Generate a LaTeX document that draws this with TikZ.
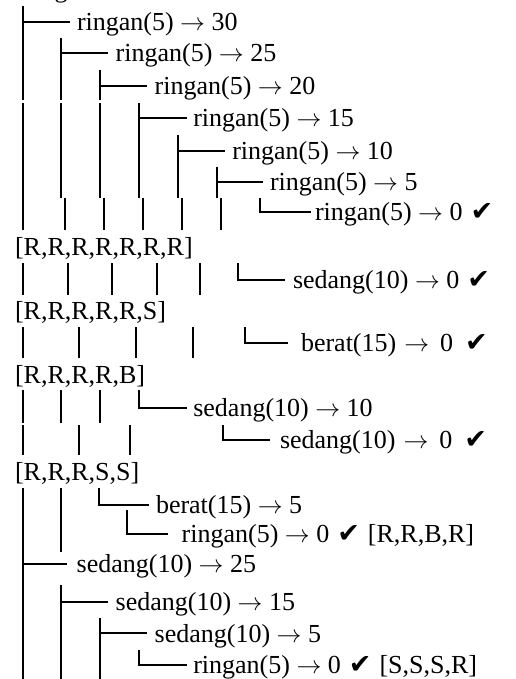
\documentclass[tikz,border=0pt]{standalone}
\usepackage{fontspec}
\setmainfont{Liberation Serif}
\newfontfamily\symfont{DejaVu Sans}
% heavy check mark, with its own spacing
\newcommand\ck{\hspace{8pt}{\symfont\fontsize{27}{27}\selectfont ✔}}
% long right arrow
\newcommand\ar{{\fontsize{29}{29}\selectfont$\rightarrow$}}
% corner/tee branch: from (x, top of row) down and across to the label
\newcommand\twig[4]{\draw[tree] (#1,#2) |- ([xshift=-#4pt]#3.west);}

\begin{document}
\begin{tikzpicture}[x=1pt,y=-1pt,
  tree/.style={line width=1.8pt},
  lbl/.style={anchor=west, inner sep=0pt, outer sep=0pt,
    font=\fontsize{26}{30}\selectfont, text height=21pt, text depth=3.6pt},
  rootlbl/.style={anchor=base west, inner sep=0pt, font=\fontsize{26}{30}\selectfont},
]
\fill[white] (0,0) rectangle (515,679);
\useasboundingbox (0,0) rectangle (515,679);

% tail of the root line above the page edge
\node[rootlbl] (root) at (54.5,-2.7) {g};

% labels
\node[lbl] (t1)  at (77,21.7)    {ringan(5) \ar{} 30};
\node[lbl] (t2)  at (115.7,53.3) {ringan(5) \ar{} 25};
\node[lbl] (t3)  at (154.7,86)   {ringan(5) \ar{} 20};
\node[lbl] (t4)  at (193.3,118.3){ringan(5) \ar{} 15};
\node[lbl] (t5)  at (232.3,150.7){ringan(5) \ar{} 10};
\node[lbl] (t6)  at (270,181.7)  {ringan(5) \ar{} 5};
\node[lbl] (t7)  at (315,212)    {ringan(5) \ar{} 0\ck};
\node[lbl] (t8)  at (15,246.3)   {[R,R,R,R,R,R,R]};
\node[lbl] (t9)  at (293,280)    {sedang(10) \ar{} 0\ck};
\node[lbl] (t10) at (15,310.3)   {[R,R,R,R,R,S]};
\node[lbl] (t11) at (301,343)    {berat(15)\hspace{8pt}\ar\hspace{11pt}0\hspace{4pt}\ck};
\node[lbl] (t12) at (15,374.6)   {[R,R,R,R,B]};
\node[lbl] (t13) at (193.3,408)  {sedang(10) \ar{} 10};
\node[lbl] (t14) at (280,440)    {sedang(10)\hspace{8pt}\ar\hspace{11pt}0\hspace{4pt}\ck};
\node[lbl] (t15) at (15,472)     {[R,R,R,S,S]};
\node[lbl] (t16) at (156,505)    {berat(15) \ar{} 5};
\node[lbl] (t17) at (181.7,534)  {ringan(5) \ar{} 0\ck\hspace{8pt}[R,R,B,R]};
\node[lbl] (t18) at (76.7,564)   {sedang(10) \ar{} 25};
\node[lbl] (t19) at (115.7,602)  {sedang(10) \ar{} 15};
\node[lbl] (t20) at (154.7,633.3){sedang(10) \ar{} 5};
\node[lbl] (t21) at (193.3,665)  {ringan(5) \ar{} 0\ck\hspace{8pt}[S,S,S,R]};

% vertical runs of the tree
\draw[tree] (22.7,6)--(22.7,100) (22.7,103)--(22.7,230) (22.7,263)--(22.7,295)
  (22.7,327)--(22.7,358) (22.7,390)--(22.7,423) (22.7,425)--(22.7,455)
  (22.7,488)--(22.7,679);
\draw[tree] (61,38)--(61,100) (61,103)--(61,198) (65,198)--(65,230)
  (68.3,263)--(68.3,295) (79,327)--(79,358) (61,390)--(61,423)
  (79,425)--(79,455) (61,488)--(61,552) (61,585)--(61,679);
\draw[tree] (100,70)--(100,100) (100,103)--(100,198) (104.3,198)--(104.3,230)
  (111.7,263)--(111.7,295) (136,327)--(136,358) (100,390)--(100,423)
  (130,425)--(130,455) (100,618)--(100,679);
\draw[tree] (139.3,103)--(139.3,198) (143.3,198)--(143.3,230)
  (156.7,263)--(156.7,295) (192.7,327)--(192.7,358);
\draw[tree] (178.3,135)--(178.3,198) (182.3,198)--(182.3,230) (200,263)--(200,295);
\draw[tree] (217.3,166.7)--(217.3,198) (221,198)--(221,230);

% branches into the labels
\twig{22.7}{6}{t1}{7}
\twig{61}{38}{t2}{7.7}
\twig{100}{70}{t3}{7.7}
\twig{139.3}{103}{t4}{6.6}
\twig{178.3}{135}{t5}{7.3}
\twig{217.3}{166.7}{t6}{7}
\twig{259.7}{198}{t7}{4}
\twig{238.3}{263}{t9}{8}
\twig{245}{327}{t11}{13}
\twig{139.3}{390}{t13}{6.6}
\twig{223.3}{425}{t14}{10}
\twig{99.3}{488}{t16}{7}
\twig{126.7}{510}{t17}{14}
\twig{22.7}{552}{t18}{10}
\twig{61}{585}{t19}{7.7}
\twig{100}{618}{t20}{7.7}
\twig{139.3}{650}{t21}{6.6}
\end{tikzpicture}
\end{document}
